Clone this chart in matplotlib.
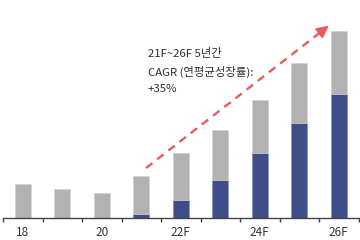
import matplotlib
matplotlib.use("Agg")
import matplotlib.pyplot as plt
import numpy as np

categories = ['18', '19', '20', '21F', '22F', '23F', '24F', '25F', '26F']
tick_labels = ['18', '', '20', '', '22F', '', '24F', '', '26F']
total = [34, 29, 25, 41.5, 65, 88, 118, 155, 186.5]
blue_part = [0, 0, 0, 3.5, 17.5, 37.5, 65, 95, 124]
gray_part = [t - b for t, b in zip(total, blue_part)]

note_lines = ['21F~26F 5년간', 'CAGR (연평균성장률):', '+35%']

W, H = 360, 240
fig = plt.figure(figsize=(3.6, 2.4), dpi=100)
ax = fig.add_axes([3 / W, 22.5 / H, 355.5 / W, 217.5 / H])

x = np.arange(len(categories))
bw = 0.405
blue = '#3F4D88'
gray = '#B2B2B2'
ax.bar(x, blue_part, width=bw, color=blue, edgecolor='#7C88B5', linewidth=0.4)
ax.bar(x, gray_part, width=bw, bottom=blue_part, color=gray, edgecolor='#D0D0D0', linewidth=0.4)

ax.set_xlim(-0.5, 8.5)
ax.set_ylim(0, 217.5)
for s in ['top', 'right', 'left']:
    ax.spines[s].set_visible(False)
ax.spines['bottom'].set_color('#444444')
ax.spines['bottom'].set_linewidth(1.0)
ax.set_yticks([])

ax.set_xticks(np.arange(-0.5, 9.0, 1.0))
ax.set_xticklabels([])
ax.tick_params(axis='x', which='major', length=3, width=1, color='#444444', direction='out')
ax.set_xticks(x, minor=True)
ax.set_xticklabels(tick_labels, minor=True)
ax.tick_params(axis='x', which='minor', length=0, pad=6, labelsize=8.5, labelcolor='#333333')
for lab in ax.get_xticklabels(minor=True):
    lab.set_family(['Noto Sans CJK KR', 'DejaVu Sans'])

# dashed arrow
def px2data(px, py):
    return (px - 3) / 39.5 - 0.5, 217.5 - py

x0, y0 = px2data(146, 168)
x1, y1 = px2data(331, 24)
xm, ym = px2data(322, 31)
red = '#E85A5C'
ax.plot([x0, xm], [y0, ym], color=red, linestyle=(0, (3.4, 2.6)), linewidth=1.7, clip_on=False)
ax.annotate('', xy=(x1, y1), xytext=(xm - 0.05, ym - 0.05 * (y1 - ym) / (x1 - xm)),
            arrowprops=dict(arrowstyle='-|>,head_length=0.7,head_width=0.35', color=red, lw=1.5),
            annotation_clip=False)

ys = [53, 72, 89]
for line, yy in zip(note_lines, ys):
    fig.text(148 / W, 1 - yy / H, line, ha='left', va='center', fontsize=8.2,
             color='#2E2E2E', family=['Noto Sans CJK KR', 'DejaVu Sans'])

fig.savefig('out.png', dpi=100)
